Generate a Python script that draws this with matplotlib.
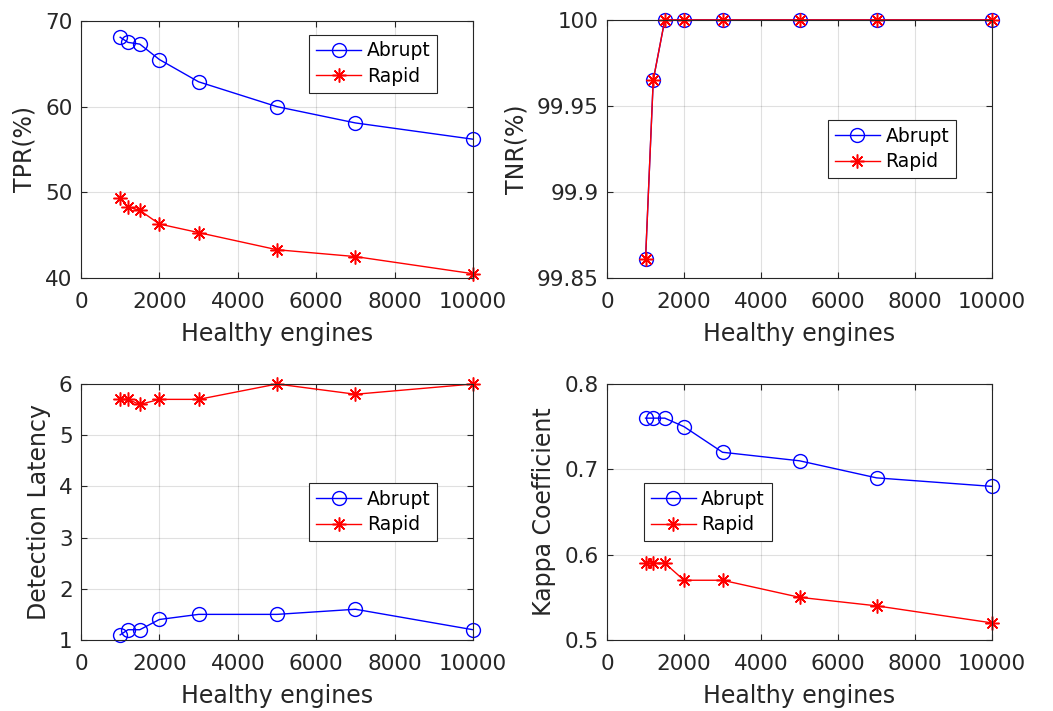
import numpy as np
import matplotlib.pyplot as plt
from matplotlib.ticker import FuncFormatter

#-----------------------------------DATA
engines = [1000, 1200, 1500, 2000, 3000, 5000, 7000, 10000]

tpr_abrupt = [68.1, 67.5, 67.3, 65.5, 62.9, 60.0, 58.1, 56.2]
tpr_rapid = [49.3, 48.3, 47.9, 46.3, 45.3, 43.3, 42.5, 40.5]

tnr_abrupt = [99.861, 99.965, 100, 100, 100, 100, 100, 100]
tnr_rapid = [99.861, 99.965, 100, 100, 100, 100, 100, 100]

lat_abrupt = [1.1, 1.2, 1.2, 1.4, 1.5, 1.5, 1.6, 1.2]
lat_rapid = [5.7, 5.7, 5.6, 5.7, 5.7, 6.0, 5.8, 6.0]

kappa_abrupt = [0.76, 0.76, 0.76, 0.75, 0.72, 0.71, 0.69, 0.68]
kappa_rapid = [0.59, 0.59, 0.59, 0.57, 0.57, 0.55, 0.54, 0.52]

series_names = ["Abrupt", "Rapid"]
x_label = "Healthy engines"

#-----------------------------------STYLE
plt.rcParams['font.family'] = ['DejaVu Sans']
plt.rcParams['font.size'] = 13.5
edge = '#262626'
asterisk = (8, 2, 0)   # MATLAB style '*'

fig = plt.figure(figsize=(10.53, 7.11), dpi=100)

panels = [
    # rect, abrupt, rapid, ylabel, ylim, yticks, legend loc, legend anchor
    ([0.0769, 0.609, 0.3723, 0.3615], tpr_abrupt, tpr_rapid, "TPR(%)",
     (40, 70), [40, 50, 60, 70], 'upper right', (0.908, 0.946)),
    ([0.5765, 0.609, 0.3656, 0.3630], tnr_abrupt, tnr_rapid, "TNR(%)",
     (99.85, 100), [99.85, 99.9, 99.95, 100], 'upper right', (0.906, 0.612)),
    ([0.0769, 0.0999, 0.3723, 0.3600], lat_abrupt, lat_rapid, "Detection Latency",
     (1, 6), [1, 2, 3, 4, 5, 6], 'upper right', (0.908, 0.613)),
    ([0.5765, 0.0999, 0.3656, 0.3600], kappa_abrupt, kappa_rapid, "Kappa Coefficient",
     (0.5, 0.8), [0.5, 0.6, 0.7, 0.8], 'upper left', (0.096, 0.613)),
]

for rect, ya, yr, ylab, ylim, yt, loc, anchor in panels:
    ax = fig.add_axes(rect)
    ax.plot(engines, ya, color='b', linewidth=1, marker='o', markersize=10,
            markerfacecolor='none', markeredgewidth=1, label=series_names[0])
    ax.plot(engines, yr, color='r', linewidth=1, marker=asterisk, markersize=10,
            markeredgewidth=1.1, label=series_names[1])
    ax.set_xlim(0, 10000)
    ax.set_ylim(*ylim)
    ax.set_xticks([0, 2000, 4000, 6000, 8000, 10000])
    ax.set_yticks(yt)
    ax.yaxis.set_major_formatter(FuncFormatter(lambda v, p: '%g' % round(v, 4)))
    ax.grid(True, color='#000000', alpha=0.12, linewidth=0.8)
    ax.tick_params(direction='in', top=True, right=True, colors=edge,
                   labelcolor=edge, length=4, labelsize=15.5)
    ax.tick_params(axis='x', pad=10)
    ax.tick_params(axis='y', pad=6)
    for s in ax.spines.values():
        s.set_color(edge)
        s.set_linewidth(0.8)
    ax.set_xlabel(x_label, fontsize=17, color=edge, labelpad=7)
    ax.set_ylabel(ylab, fontsize=17, color=edge, labelpad=6)
    leg = ax.legend(loc=loc, bbox_to_anchor=anchor, fancybox=False,
                    edgecolor=edge, framealpha=1, handlelength=2.4,
                    handletextpad=0.3, fontsize=13.5, borderpad=0.35,
                    labelspacing=0.35, borderaxespad=0)
    leg.get_frame().set_linewidth(0.8)
    for c in [ax.lines[0], ax.lines[1]]:
        c.set_clip_on(False)

plt.savefig('out.png', dpi=100)
